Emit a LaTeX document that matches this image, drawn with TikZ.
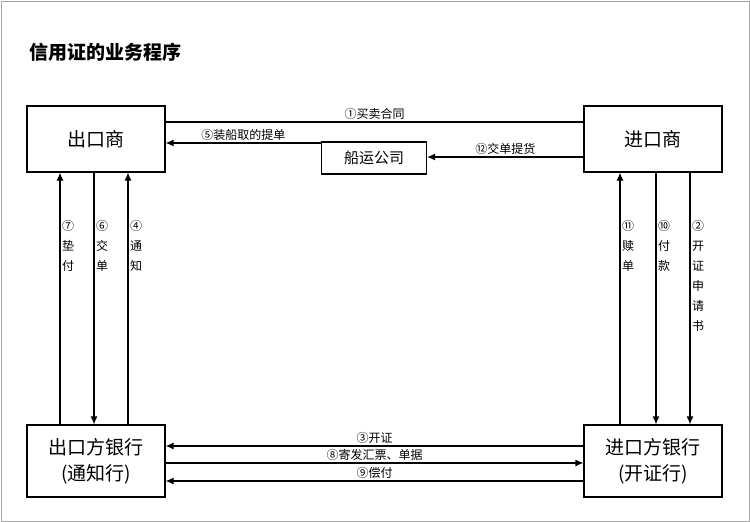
\documentclass[tikz,border=0pt]{standalone}
\usepackage{fontspec}
\setmainfont{Noto Sans CJK SC}
\usetikzlibrary{arrows.meta,positioning}
\tikzset{
  party/.style={draw,line width=1.2pt,minimum width=138pt,minimum height=66pt,font=\fontsize{19}{22}\selectfont,align=center},
  flow/.style={line width=1.2pt,-{Latex[length=8pt,width=7pt]}},
  lbl/.style={font=\fontsize{12}{14}\selectfont,inner sep=1pt},
  vlbl/.style={font=\fontsize{12}{20}\selectfont,align=center,inner sep=0pt,anchor=north west}
}
\begin{document}
\begin{tikzpicture}[x=1pt,y=-1pt]
  \useasboundingbox (0,0) rectangle (750,522);
  \draw[gray!70,line width=1pt] (1,1) rectangle (749,521);
  \node[anchor=west,font=\fontsize{19}{22}\selectfont\bfseries] (title) at (26,52) {信用证的业务程序};

  \node[party] (exp) at (96,139) {出口商};
  \node[party] (imp) at (653,139) {进口商};
  \node[party,minimum width=105pt,minimum height=32pt,font=\fontsize{15}{18}\selectfont] (ship) at (374,158) {船运公司};
  \node[party,minimum height=72pt,font=\fontsize{19}{26}\selectfont] (expb) at (96,461) {出口方银行\\(通知行)};
  \node[party,minimum height=72pt,font=\fontsize{19}{26}\selectfont] (impb) at (653,461) {进口方银行\\(开证行)};

  % top
  \draw[line width=1.2pt] (exp.east |- 0,122) -- (imp.west |- 0,122)
    node[lbl,midway,above=1pt] {①买卖合同};
  \draw[flow] (ship.west |- 0,143) -- (exp.east |- 0,143)
    node[lbl,midway,above=1pt] {⑤装船取的提单};
  \draw[flow] (imp.west |- 0,157) -- (ship.east |- 0,157)
    node[lbl,midway,above=1pt] {⑫交单提货};

  % left side
  \draw[flow] (expb.north -| 60,0) -- (exp.south -| 60,0);
  \draw[flow] (exp.south -| 94,0) -- (expb.north -| 94,0);
  \draw[flow] (expb.north -| 128,0) -- (exp.south -| 128,0);
  \node[vlbl] (l7) at (62,220) {⑦\\垫\\付};
  \node[vlbl] (l6) at (96,220) {⑥\\交\\单};
  \node[vlbl] (l4) at (130,220) {④\\通\\知};

  % right side
  \draw[flow] (impb.north -| 620,0) -- (imp.south -| 620,0);
  \draw[flow] (imp.south -| 656,0) -- (impb.north -| 656,0);
  \draw[flow] (imp.south -| 690,0) -- (impb.north -| 690,0);
  \node[vlbl] (l11) at (622,220) {⑪\\赎\\单};
  \node[vlbl] (l10) at (658,220) {⑩\\付\\款};
  \node[vlbl] (l2) at (692,220) {②\\开\\证\\申\\请\\书};

  % bottom
  \draw[flow] (impb.west |- 0,446) -- (expb.east |- 0,446)
    node[lbl,midway,above=1pt] {③开证};
  \draw[flow] (expb.east |- 0,463) -- (impb.west |- 0,463)
    node[lbl,midway,above=1pt] {⑧寄发汇票、单据};
  \draw[flow] (impb.west |- 0,481) -- (expb.east |- 0,481)
    node[lbl,midway,above=1pt] {⑨偿付};
\end{tikzpicture}
\end{document}
